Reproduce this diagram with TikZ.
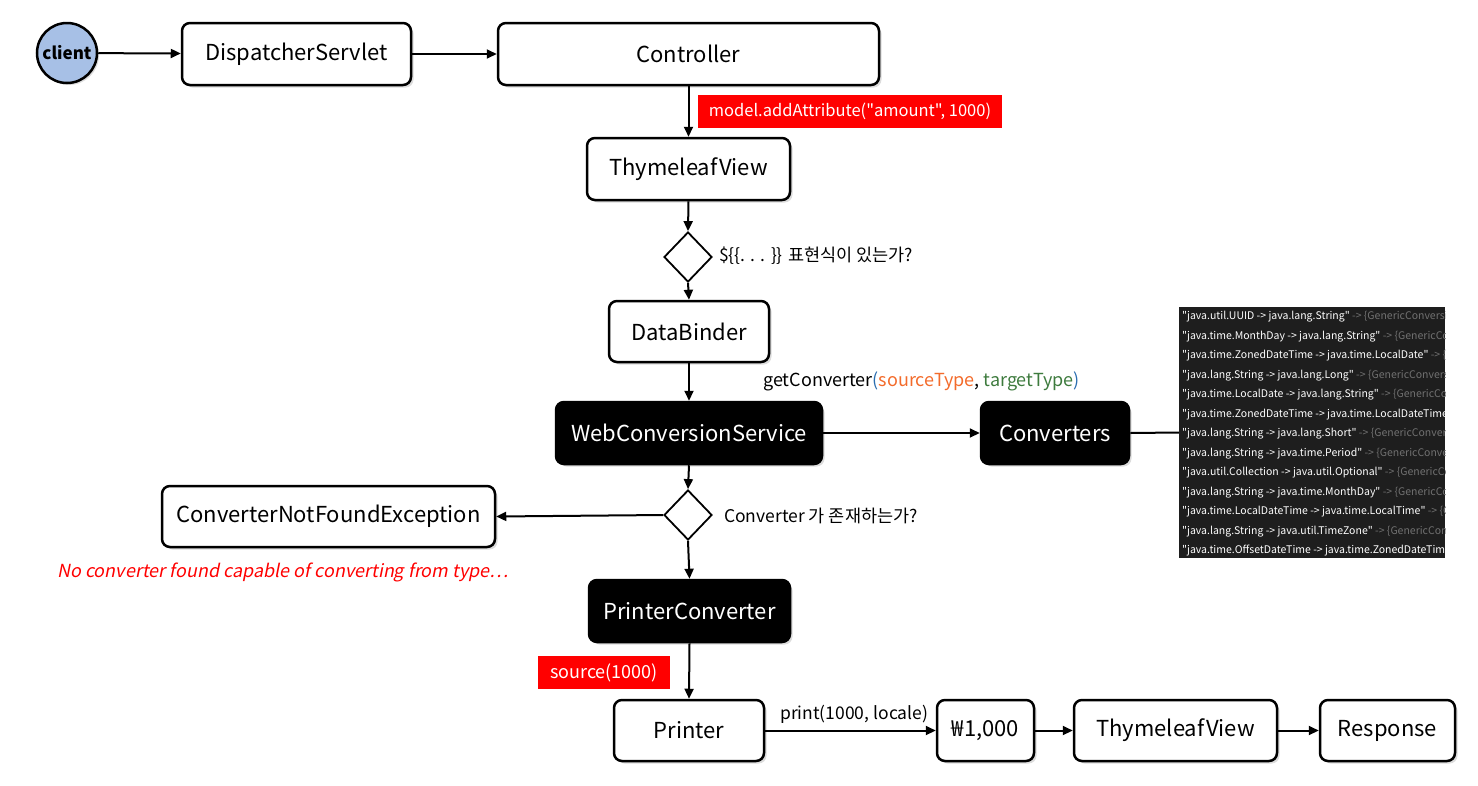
\documentclass[tikz,border=0pt]{standalone}
\usepackage{fontspec}
\setmainfont{Noto Sans CJK KR}[Ligatures=TeXOff]
\newfontfamily\slfont[FakeSlant=0.2,Ligatures=TeXOff]{Noto Sans CJK KR}
\usetikzlibrary{shapes.geometric,arrows.meta,shadows}
\definecolor{clientblue}{HTML}{A7C0E6}
\definecolor{panelbg}{HTML}{1E1E1E}
\definecolor{codegray}{HTML}{707070}
\definecolor{srcorange}{HTML}{F36B2B}
\definecolor{tgtgreen}{HTML}{3E7B3E}
\definecolor{parblue}{HTML}{2A6DB0}
\definecolor{redlab}{HTML}{FF0000}
\tikzset{
  boxbase/.style={draw=black, line width=2.5pt, rounded corners=8pt, inner sep=0pt,
    font=\fontsize{22}{25}\selectfont,
    drop shadow={opacity=0.28, shadow xshift=2.5pt, shadow yshift=-2.5pt}},
  wbox/.style={boxbase, fill=white, text=black},
  bbox/.style={boxbase, fill=black, text=white},
  dia/.style={diamond, draw=black, line width=1.8pt, fill=white, inner sep=0pt,
    minimum width=48pt, minimum height=50pt},
  arr/.style={line width=2pt, -{Triangle[length=10pt,width=9pt]}},
  plain/.style={line width=2pt},
  redbox/.style={fill=redlab, text=white, inner sep=0pt, font=\fontsize{16.5}{19}\selectfont},
  lbl/.style={anchor=west, inner sep=0pt, font=\fontsize{17.5}{20}\selectfont},
  codeline/.style={anchor=west, inner sep=0pt, font=\fontsize{10.5}{12}\selectfont, text=white}
}
\newcommand{\codeln}[1]{"#1"\ \textcolor{codegray}{-> \{GenericConversionService.ConvertersForPair\}}}
\begin{document}
\begin{tikzpicture}[x=1pt,y=-1pt]
\useasboundingbox (0,0) rectangle (1478,785);
% top row
\node[circle, draw=black, line width=2.5pt, fill=clientblue, minimum size=60pt, inner sep=0pt,
  font=\bfseries\fontsize{17}{20}\selectfont,
  drop shadow={opacity=0.28, shadow xshift=2pt, shadow yshift=-2pt}] (client) at (67,53) {client};
\node[wbox, minimum width=229pt, minimum height=62pt] (disp) at (296.5,54) {DispatcherServlet};
\node[wbox, minimum width=381pt, minimum height=62pt] (ctrl) at (688.5,54) {Controller};
\node[wbox, minimum width=203pt, minimum height=62pt] (tv1) at (688.5,169) {ThymeleafView};
\node[dia] (d1) at (688,257) {};
\node[wbox, minimum width=160pt, minimum height=61pt] (db) at (689,331.5) {DataBinder};
\node[bbox, minimum width=266pt, minimum height=62pt] (wcs) at (689,433) {WebConversionService};
\node[bbox, minimum width=148pt, minimum height=62pt] (conv) at (1055,433) {Converters};
\node[dia] (d2) at (688,515) {};
\node[wbox, minimum width=333pt, minimum height=61pt] (cnfe) at (328.5,516.5) {ConverterNotFoundException};
\node[bbox, minimum width=201pt, minimum height=62pt] (pc) at (689.5,611) {PrinterConverter};
\node[wbox, minimum width=150pt, minimum height=61pt] (printer) at (689,730.5) {Printer};
\node[wbox, minimum width=97pt, minimum height=61pt] (won) at (985.5,730.5) {₩1,000};
\node[wbox, minimum width=203pt, minimum height=61pt] (tv2) at (1175.5,730.5) {ThymeleafView};
\node[wbox, minimum width=135pt, minimum height=61pt] (resp) at (1387.5,730.5) {Response};
% code panel
\node[fill=panelbg, minimum width=266pt, minimum height=251pt, inner sep=0pt] (panel) at (1312,432.5) {};
\begin{scope}
\clip (1179,307) rectangle (1445,558);
\foreach \t [count=\i from 0] in {
  {java.util.UUID -> java.lang.String},
  {java.time.MonthDay -> java.lang.String},
  {java.time.ZonedDateTime -> java.time.LocalDate},
  {java.lang.String -> java.lang.Long},
  {java.time.LocalDate -> java.lang.String},
  {java.time.ZonedDateTime -> java.time.LocalDateTime},
  {java.lang.String -> java.lang.Short},
  {java.lang.String -> java.time.Period},
  {java.util.Collection -> java.util.Optional},
  {java.lang.String -> java.time.MonthDay},
  {java.time.LocalDateTime -> java.time.LocalTime},
  {java.lang.String -> java.util.TimeZone},
  {java.time.OffsetDateTime -> java.time.ZonedDateTime}}
  \node[codeline] (cl\i) at (1182,317+19.5*\i) {\codeln{\t}};
\end{scope}
% red labels
\node[redbox, minimum width=304pt, minimum height=33pt] (mlab) at (850,111.5) {model.addAttribute("amount", 1000)};
\node[redbox, font=\fontsize{18}{21}\selectfont, minimum width=132pt, minimum height=33pt] (slab) at (604,672.5) {source(1000)};
% text labels
\node[lbl] (q1) at (719,256) {\$\{\{. . . \}\} 표현식이 있는가?};
\node[lbl, font=\fontsize{18}{21}\selectfont] (gc) at (763,381) {getConverter\textcolor{parblue}{(}\textcolor{srcorange}{sourceType}, \textcolor{tgtgreen}{targetType}\textcolor{parblue}{)}};
\node[lbl] (q2) at (724,516) {Converter 가 존재하는가?};
\node[lbl, text=redlab, font=\slfont\fontsize{18}{21}\selectfont] (err) at (57,572) {No converter found capable of converting from type⋯};
\node[lbl] (pl) at (780,714) {print(1000, locale)};
% connectors
\draw[arr] (client) -- (disp);
\draw[arr] (disp) -- (ctrl);
\draw[arr] (ctrl.south) -- (tv1.north);
\draw[arr] (tv1.south) -- (d1.north);
\draw[arr] (d1.south) -- (db.north);
\draw[arr] (db.south) -- (wcs.north);
\draw[arr] (wcs) -- (conv);
\draw[plain] (conv.east) -- (panel.west);
\draw[arr] (wcs.south) -- (d2.north);
\draw[arr] (d2.west) -- (cnfe.east);
\draw[arr] (d2.south) -- (pc.north);
\draw[arr] (pc.south) -- (printer.north);
\draw[arr] (printer) -- (won);
\draw[arr] (won) -- (tv2);
\draw[arr] (tv2) -- (resp);
\end{tikzpicture}
\end{document}
